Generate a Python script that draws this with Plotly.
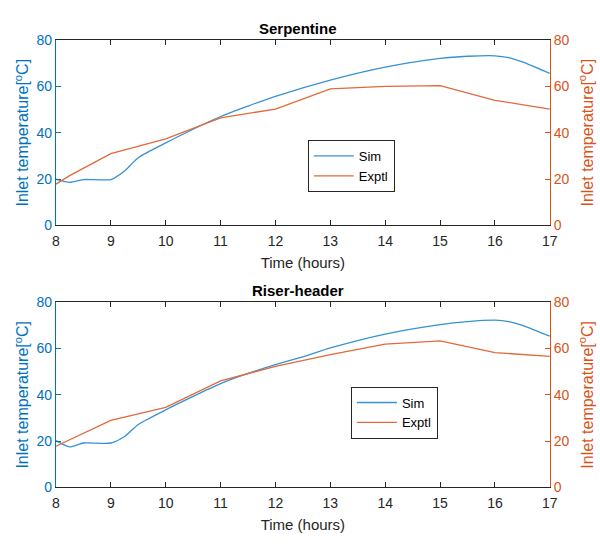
import plotly.graph_objects as go

# ---- data ----
sim_top_x = [8, 8.25, 8.5, 9, 9.25, 9.5, 10, 10.5, 11, 11.5, 12, 13, 14, 15, 15.5, 16, 16.25, 16.5, 17]
sim_top_y = [20, 18.6, 19.8, 19.8, 23.5, 29.2, 35.6, 41.5, 47, 51.5, 55.7, 62.7, 68.3, 72.1, 73, 73.2, 72.4, 70.6, 65.6]
exp_top_x = [8, 8.25, 9, 10, 11, 12, 13, 14, 15, 16, 17]
exp_top_y = [17.8, 21.5, 31, 37.3, 46.4, 50.2, 58.9, 60, 60.3, 54, 50.2]

sim_bot_x = [8, 8.25, 8.5, 9, 9.25, 9.5, 10, 10.5, 11, 11.5, 12, 12.5, 13, 14, 15, 15.5, 16, 16.25, 16.5, 17]
sim_bot_y = [20.2, 17.5, 19.2, 19.2, 22, 27.2, 33.5, 39.3, 44.8, 49.2, 53, 56.4, 60.2, 66.2, 70.3, 71.6, 72.2, 71.6, 70, 65.3]
exp_bot_x = [8, 9, 10, 11, 12, 13, 14, 15, 16, 17]
exp_bot_y = [17.8, 29, 34.6, 46, 52.3, 57.3, 61.9, 63.3, 58.2, 56.6]

x_ticks = [8, 9, 10, 11, 12, 13, 14, 15, 16, 17]
y_ticks = [0, 20, 40, 60, 80]
titles = ["Serpentine", "Riser-header"]
series_names = ["Sim", "Exptl"]

BLUE = "#0072BD"
ORANGE = "#D95319"
BLUE_LINE = "#3592d4"
ORANGE_LINE = "#e2693a"
FONT = "Liberation Sans Narrow, Liberation Sans, Arial"

fig = go.Figure()

fig.add_trace(go.Scatter(x=sim_top_x, y=sim_top_y, name=series_names[0], mode="lines",
                         line=dict(color=BLUE_LINE, width=1.3, shape="spline", smoothing=0.6),
                         xaxis="x", yaxis="y", legend="legend"))
fig.add_trace(go.Scatter(x=exp_top_x, y=exp_top_y, name=series_names[1], mode="lines",
                         line=dict(color=ORANGE_LINE, width=1.3),
                         xaxis="x", yaxis="y2", legend="legend"))
fig.add_trace(go.Scatter(x=sim_bot_x, y=sim_bot_y, name=series_names[0], mode="lines",
                         line=dict(color=BLUE_LINE, width=1.3, shape="spline", smoothing=0.6),
                         xaxis="x2", yaxis="y3", legend="legend2"))
fig.add_trace(go.Scatter(x=exp_bot_x, y=exp_bot_y, name=series_names[1], mode="lines",
                         line=dict(color=ORANGE_LINE, width=1.3),
                         xaxis="x2", yaxis="y4", legend="legend2"))

xdom = [53 / 600, 557 / 600]
top_dom = [1 - 224 / 545, 1 - 33 / 545]
bot_dom = [1 - 494 / 545, 1 - 303 / 545]

ytitle = "Inlet temperature[<sup>o</sup>C]"

def xaxis(anchor, dom):
    return dict(domain=dom, anchor=anchor, range=[8, 17], tickvals=x_ticks,
                showline=True, linecolor="#262626", linewidth=1, mirror="ticks",
                ticks="inside", ticklen=5, tickcolor="#262626", showgrid=False, zeroline=False,
                ticklabelstandoff=3,
                tickfont=dict(size=14, color="#262626", family=FONT),
                title=dict(text="Time (hours)", font=dict(size=15, color="#262626", family=FONT), standoff=9))

def yleft(anchor, dom):
    return dict(domain=dom, anchor=anchor, range=[0, 80], tickvals=y_ticks,
                showline=True, linecolor=BLUE, linewidth=1,
                ticks="inside", ticklen=5, tickcolor=BLUE, showgrid=False, zeroline=False,
                tickfont=dict(size=14, color=BLUE, family=FONT),
                title=dict(text=ytitle, font=dict(size=16, color=BLUE, family=FONT), standoff=3))

def yright(anchor, overl):
    return dict(anchor=anchor, overlaying=overl, side="right", range=[0, 80], tickvals=y_ticks,
                showline=True, linecolor=ORANGE, linewidth=1,
                ticks="inside", ticklen=5, tickcolor=ORANGE, showgrid=False, zeroline=False,
                tickfont=dict(size=14, color=ORANGE, family=FONT),
                title=dict(text=ytitle, font=dict(size=16, color=ORANGE, family=FONT), standoff=13))

legend_common = dict(bgcolor="white", bordercolor="#262626", borderwidth=1,
                     font=dict(size=13, color="black", family=FONT),
                     xanchor="left", yanchor="top", itemwidth=40, tracegroupgap=0)

fig.update_layout(
    width=600, height=545,
    margin=dict(l=0, r=0, t=0, b=0),
    paper_bgcolor="white", plot_bgcolor="white",
    showlegend=True,
    xaxis=xaxis("y", xdom),
    yaxis=yleft("x", top_dom),
    yaxis2=yright("x", "y"),
    xaxis2=xaxis("y3", xdom),
    yaxis3=yleft("x2", bot_dom),
    yaxis4=yright("x2", "y3"),
    legend=dict(x=310 / 600, y=1 - 136 / 545, **legend_common),
    legend2=dict(x=354 / 600, y=1 - 390 / 545, **legend_common),
    annotations=[
        dict(text="<b>" + titles[0] + "</b>", x=0.5, y=1 - 21 / 545, xref="paper", yref="paper",
             xanchor="center", yanchor="middle",
             showarrow=False, font=dict(size=15, color="black", family=FONT)),
        dict(text="<b>" + titles[1] + "</b>", x=0.5, y=1 - 291 / 545, xref="paper", yref="paper",
             xanchor="center", yanchor="middle",
             showarrow=False, font=dict(size=15, color="black", family=FONT)),
    ],
)

fig.write_html("out.html")
